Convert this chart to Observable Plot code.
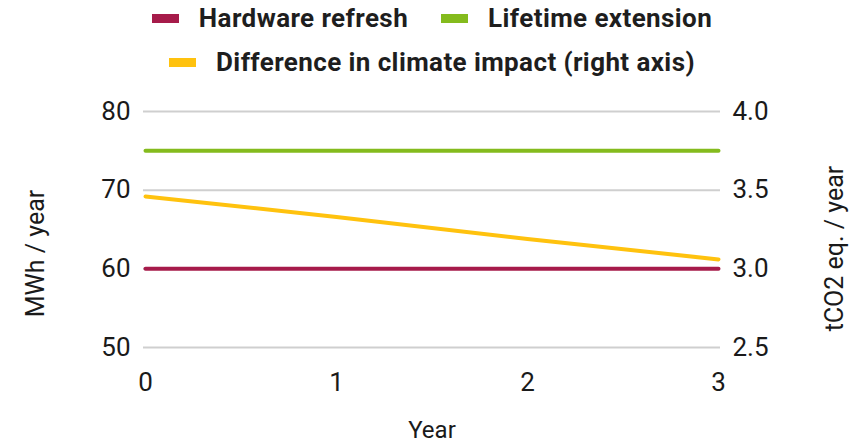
<!DOCTYPE html>
<html>
<head>
<meta charset="utf-8">
<script src="https://cdn.jsdelivr.net/npm/d3@7"></script>
<script src="https://cdn.jsdelivr.net/npm/@observablehq/plot@0.6"></script>
<style>
  html, body { margin: 0; padding: 0; background: #fff; }
  body { width: 858px; height: 443px; overflow: hidden; font-family: Roboto, sans-serif; }
  #legend { height: 85px; display: flex; flex-wrap: wrap; justify-content: center; align-content: flex-start; column-gap: 33px; row-gap: 8px; padding-left: 6px; box-sizing: border-box; }
  .item { display: flex; align-items: center; height: 36px; font-weight: 700; font-size: 26px; letter-spacing: 0.4px; color: #1e1e1e; }
  .sw { width: 27px; height: 9px; margin-right: 20px; }
  #chart svg { display: block; }
</style>
</head>
<body>
<div id="legend"></div>
<div id="chart"></div>
<script>
const years = [0, 1, 2, 3];
const hardwareRefresh = [60, 60, 60, 60];
const lifetimeExtension = [75, 75, 75, 75];
const climateDifference = [3.46, 3.33, 3.19, 3.06]; // right axis, tCO2 eq. / year
const leftTicks = [50, 60, 70, 80];
const rightTickLabels = ["2.5", "3.0", "3.5", "4.0"];
const seriesNames = ["Hardware refresh", "Lifetime extension", "Difference in climate impact (right axis)"];
const seriesColors = ["#a61b4a", "#84bb1d", "#ffc20e"];

// map right-axis values onto the left scale: 2.5..4.0 -> 50..80
const toLeft = v => 50 + (v - 2.5) * 20;

const legend = document.getElementById("legend");
seriesNames.forEach((n, i) => {
  const it = document.createElement("div");
  it.className = "item";
  it.innerHTML = `<span class="sw" style="background:${seriesColors[i]}"></span><span>${n}</span>`;
  legend.appendChild(it);
});

const rows = [];
years.forEach((y, i) => {
  rows.push({year: y, value: hardwareRefresh[i], series: seriesNames[0]});
  rows.push({year: y, value: lifetimeExtension[i], series: seriesNames[1]});
  rows.push({year: y, value: toLeft(climateDifference[i]), series: seriesNames[2]});
});

const W = 858, H = 358;
const chart = Plot.plot({
  width: W,
  height: H,
  marginTop: 26,
  marginBottom: 96,
  marginLeft: 145,
  marginRight: 140,
  style: {fontFamily: "Roboto, sans-serif", fontSize: "26px", color: "#1a1a1a", background: "white"},
  x: {domain: [0, 3], ticks: years},
  y: {domain: [50, 80], ticks: leftTicks},
  color: {domain: seriesNames, range: seriesColors},
  marks: [
    Plot.ruleY(leftTicks, {stroke: "#cfcfcf", strokeWidth: 2, insetLeft: -2, insetRight: -2}),
    Plot.axisX({ticks: years, tickFormat: d => String(d), tickSize: 0, tickPadding: 25, fontSize: 26, label: null}),
    Plot.axisY({anchor: "left", ticks: leftTicks, tickFormat: d => String(d), tickSize: 0, tickPadding: 15, fontSize: 26, label: null}),
    Plot.axisY({anchor: "right", ticks: leftTicks, tickSize: 0, tickPadding: 14, fontSize: 26, label: null,
      tickFormat: d => rightTickLabels[leftTicks.indexOf(d)]}),
    Plot.line(rows, {x: "year", y: "value", z: "series", stroke: "series", strokeWidth: 4}),
    Plot.text(["Year"], {frameAnchor: "bottom", dy: 90, fontSize: 24, fill: "#1a1a1a"}),
    Plot.text(["MWh / year"], {frameAnchor: "left", textAnchor: "middle", rotate: -90, dx: -110, dy: 24, fontSize: 25, fill: "#1a1a1a"}),
    Plot.text(["tCO2 eq. / year"], {frameAnchor: "right", textAnchor: "middle", rotate: -90, dx: 116, dy: 19, fontSize: 25, fill: "#1a1a1a"})
  ]
});
document.getElementById("chart").appendChild(chart);
</script>
</body>
</html>
